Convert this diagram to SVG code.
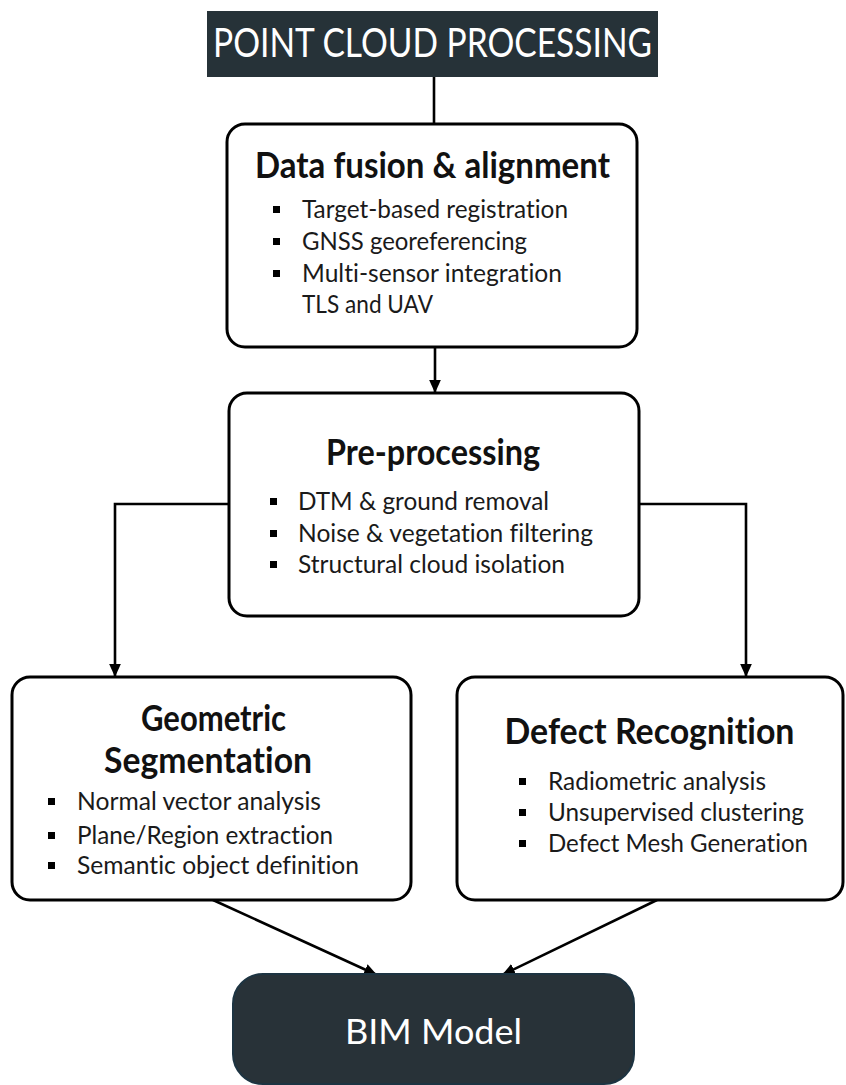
<svg xmlns="http://www.w3.org/2000/svg" width="846" height="1085" viewBox="0 0 846 1085">
<defs>
<marker id="arr" viewBox="0 0 10 10" markerWidth="13" markerHeight="13" markerUnits="userSpaceOnUse" refX="10" refY="5" orient="auto">
<path d="M0,0.5 L10,5 L0,9.5 z" fill="#000"/>
</marker>
<style>
text{font-variant-ligatures:none;font-feature-settings:"liga" 0,"clig" 0}
.box{fill:#fff;stroke:#000;stroke-width:3}
.dark{fill:#283238;stroke:#1d3442;stroke-width:2}
.ttl{font-family:Lato,"Open Sans",sans-serif;font-weight:bold;font-size:36px;fill:#111;text-anchor:middle}
.itm{font-family:Lato,"Open Sans",sans-serif;font-size:24.5px;fill:#1a1a1a}
.wt{font-family:Lato,"Open Sans",sans-serif;fill:#fff;text-anchor:middle}
.bul{fill:#000}
.con{fill:none;stroke:#000;stroke-width:2.6}
</style>
</defs>
<rect width="846" height="1085" fill="#fff"/>

<g id="connectors">
<line class="con" x1="434" y1="77" x2="434" y2="124"/>
<line class="con" x1="435" y1="347" x2="435" y2="393" marker-end="url(#arr)"/>
<polyline class="con" points="229,504 115,504 115,677" marker-end="url(#arr)"/>
<polyline class="con" points="639,504 746,504 746,677" marker-end="url(#arr)"/>
<line class="con" x1="213" y1="900" x2="377" y2="975" marker-end="url(#arr)"/>
<line class="con" x1="657" y1="900" x2="502" y2="975" marker-end="url(#arr)"/>
</g>

<g id="title">
<rect x="207" y="11" width="451" height="66" fill="#263238"/>
<text class="wt" x="432.5" y="57" font-size="41" textLength="439" lengthAdjust="spacingAndGlyphs">POINT CLOUD PROCESSING</text>
</g>

<g id="data-fusion">
<rect class="box" x="227" y="124" width="410" height="223" rx="18"/>
<text class="ttl" x="432.5" y="178" textLength="355" lengthAdjust="spacingAndGlyphs">Data fusion &amp; alignment</text>
<rect class="bul" x="273" y="206" width="7" height="7"/>
<text class="itm" x="302" y="218" textLength="266" lengthAdjust="spacingAndGlyphs">Target-based registration</text>
<rect class="bul" x="273" y="238" width="7" height="7"/>
<text class="itm" x="302" y="250" textLength="225" lengthAdjust="spacingAndGlyphs">GNSS georeferencing</text>
<rect class="bul" x="273" y="270" width="7" height="7"/>
<text class="itm" x="302" y="282" textLength="260" lengthAdjust="spacingAndGlyphs">Multi-sensor integration</text>
<text class="itm" x="302" y="313" textLength="131" lengthAdjust="spacingAndGlyphs">TLS and UAV</text>
</g>

<g id="pre-processing">
<rect class="box" x="229" y="393" width="410" height="223" rx="18"/>
<text class="ttl" x="433" y="465" textLength="214" lengthAdjust="spacingAndGlyphs">Pre-processing</text>
<rect class="bul" x="270" y="498" width="7" height="7"/>
<text class="itm" x="298" y="510" textLength="251" lengthAdjust="spacingAndGlyphs">DTM &amp; ground removal</text>
<rect class="bul" x="270" y="530" width="7" height="7"/>
<text class="itm" x="298" y="542" textLength="295" lengthAdjust="spacingAndGlyphs">Noise &amp; vegetation filtering</text>
<rect class="bul" x="270" y="561" width="7" height="7"/>
<text class="itm" x="298" y="573" textLength="267" lengthAdjust="spacingAndGlyphs">Structural cloud isolation</text>
</g>

<g id="geometric-segmentation">
<rect class="box" x="12" y="677" width="399" height="223" rx="18"/>
<text class="ttl" x="213.5" y="731" textLength="145" lengthAdjust="spacingAndGlyphs">Geometric</text>
<text class="ttl" x="208" y="773" textLength="208" lengthAdjust="spacingAndGlyphs">Segmentation</text>
<rect class="bul" x="48" y="798" width="7" height="7"/>
<text class="itm" x="77" y="810" textLength="244" lengthAdjust="spacingAndGlyphs">Normal vector analysis</text>
<rect class="bul" x="48" y="832" width="7" height="7"/>
<text class="itm" x="77" y="844" textLength="256" lengthAdjust="spacingAndGlyphs">Plane/Region extraction</text>
<rect class="bul" x="48" y="862" width="7" height="7"/>
<text class="itm" x="77" y="874" textLength="282" lengthAdjust="spacingAndGlyphs">Semantic object definition</text>
</g>

<g id="defect-recognition">
<rect class="box" x="457" y="677" width="386" height="223" rx="18"/>
<text class="ttl" x="649.5" y="744" textLength="290" lengthAdjust="spacingAndGlyphs">Defect Recognition</text>
<rect class="bul" x="519" y="778" width="7" height="7"/>
<text class="itm" x="548" y="790" textLength="218" lengthAdjust="spacingAndGlyphs">Radiometric analysis</text>
<rect class="bul" x="519" y="809" width="7" height="7"/>
<text class="itm" x="548" y="821" textLength="256" lengthAdjust="spacingAndGlyphs">Unsupervised clustering</text>
<rect class="bul" x="519" y="840" width="7" height="7"/>
<text class="itm" x="548" y="852" textLength="260" lengthAdjust="spacingAndGlyphs">Defect Mesh Generation</text>
</g>

<g id="bim-model">
<rect class="dark" x="233" y="974" width="401" height="110" rx="30"/>
<text class="wt" x="433.5" y="1044" font-size="34" textLength="177" lengthAdjust="spacingAndGlyphs">BIM Model</text>
</g>
</svg>
